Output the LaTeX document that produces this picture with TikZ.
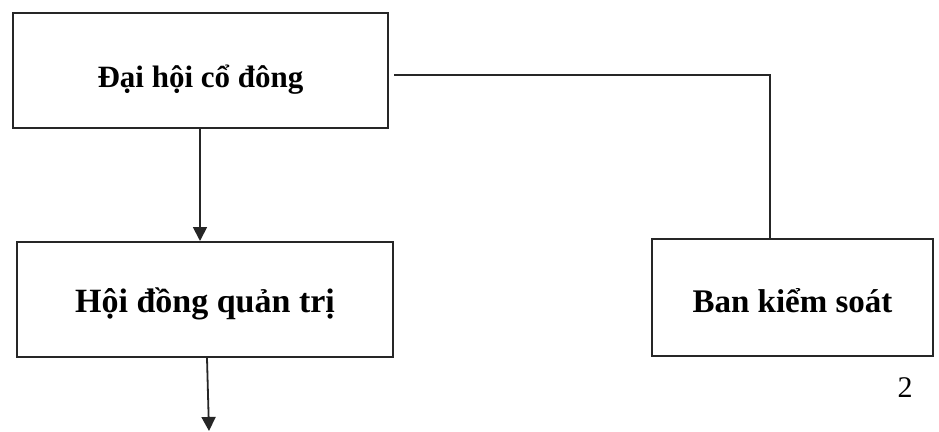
\documentclass[tikz,border=0pt]{standalone}
\usepackage{fontspec}
\setmainfont{Liberation Serif}
\usetikzlibrary{arrows.meta,calc}
\newcommand{\lowertext}[2]{\raisebox{-#1}[\height][\depth]{#2}}
\begin{document}
\begin{tikzpicture}[x=1pt,y=-1pt,
  box/.style={draw=black!85,line width=2pt,rectangle,inner sep=0pt,align=center},
  conn/.style={draw=black!85,line width=1.8pt},
  arr/.style={conn,-{Triangle[length=14pt,width=14pt]}}]
\useasboundingbox (0,0) rectangle (939,431);
\node[box,minimum width=375pt,minimum height=115pt,font=\bfseries\fontsize{31}{36}\selectfont] (b1) at (200.5,70.5) {\lowertext{9pt}{Đại hội cổ đông}};
\node[box,minimum width=376pt,minimum height=115pt,font=\bfseries\fontsize{34}{40}\selectfont] (b2) at (205,299.5) {\lowertext{4pt}{Hội đồng quản trị}};
\node[box,minimum width=281pt,minimum height=117pt,font=\bfseries\fontsize{33}{40}\selectfont] (b3) at (792.5,297.5) {\lowertext{3pt}{Ban kiểm soát}};
\node[font=\fontsize{30}{36}\selectfont] (pg) at (905,388) {2};
\coordinate (e2) at (209,431);
\draw[conn] ([xshift=5pt,yshift=-4.5pt]b1.east) -| ([xshift=-22.5pt]b3.north);
\draw[arr] ([xshift=-0.5pt]b1.south) -- ([xshift=-0.5pt]b1.south |- b2.north);
\draw[arr] ([xshift=2pt]b2.south) -- (e2);
\end{tikzpicture}
\end{document}
